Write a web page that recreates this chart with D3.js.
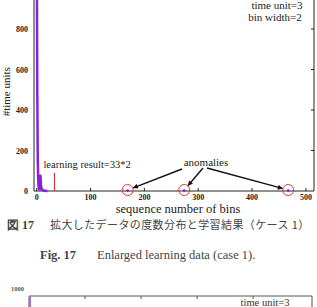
<!DOCTYPE html>
<html>
<head>
<meta charset="utf-8">
<script src="https://cdn.jsdelivr.net/npm/d3@7"></script>
<style>
  body { margin: 0; background: #fff; }
  svg { display: block; }
</style>
</head>
<body>
<div id="chart"></div>
<script>
const WIDTH = 317;
const HEIGHT = 307;
const SERIF = "'Liberation Serif', 'Times New Roman', serif";
const PURPLE = "#8a1ee0";

// histogram of bin occupancy (bins 0..20), rest are empty
const bins   = [0, 1, 2, 3, 4, 5, 6, 7, 8, 9, 10, 11, 12, 13, 14, 15, 16, 17, 18, 19, 20];
const counts = [1400, 520, 150, 40, 12, 8, 20, 75, 30, 10, 6, 4, 3, 2, 2, 1, 1, 1, 0, 0, 0];

const anomalyBins   = [169, 274, 467];
const anomalyCounts = [2, 2, 2];

const learnedBin = 33;
const learnedHeight = 90;

const xTicks = [0, 100, 200, 300, 400, 500];
const yTicks = [0, 200, 400, 600, 800];
const bottomXTicks = [100, 200, 300, 400];

const svg = d3.select("#chart").append("svg")
    .attr("width", WIDTH)
    .attr("height", HEIGHT);

// main chart (top part is cropped off the page)
const x = d3.scaleLinear().domain([-5, 515]).range([34, 314]);
const y = d3.scaleLinear().domain([0, 1000]).range([191, -11.5]);

const frame = svg.append("g");
frame.append("line")
    .attr("x1", x.range()[0]).attr("x2", x.range()[1])
    .attr("y1", y(0)).attr("y2", y(0))
    .attr("stroke", "#222").attr("stroke-width", 1);
frame.append("line")
    .attr("x1", x.range()[0]).attr("x2", x.range()[0])
    .attr("y1", y(1000)).attr("y2", y(0))
    .attr("stroke", "#222").attr("stroke-width", 1);
frame.append("line")
    .attr("x1", x.range()[1]).attr("x2", x.range()[1])
    .attr("y1", y(1000)).attr("y2", y(0))
    .attr("stroke", "#222").attr("stroke-width", 1);

// ticks pointing inward
frame.selectAll(".xt").data(xTicks).enter().append("line")
    .attr("x1", d => x(d)).attr("x2", d => x(d))
    .attr("y1", y(0)).attr("y2", y(0) - 3)
    .attr("stroke", "#222");
frame.selectAll(".yr").data(yTicks.slice(1)).enter().append("line")
    .attr("x1", x.range()[1]).attr("x2", x.range()[1] - 3)
    .attr("y1", d => y(d)).attr("y2", d => y(d))
    .attr("stroke", "#222");

svg.selectAll(".xl").data(xTicks).enter().append("text")
    .attr("x", d => x(d))
    .attr("y", y(0) + 9)
    .attr("text-anchor", "middle")
    .attr("font-family", SERIF).attr("font-weight", "bold").attr("font-size", 8)
    .attr("fill", "#222")
    .text(d => d);

svg.selectAll(".yl").data(yTicks).enter().append("text")
    .attr("x", x.range()[0] - 6)
    .attr("y", d => y(d) + 3)
    .attr("text-anchor", "end")
    .attr("font-family", SERIF).attr("font-weight", "bold").attr("font-size", 8)
    .attr("fill", "#222")
    .text(d => d);

svg.append("text")
    .attr("transform", "translate(10," + y(490) + ") rotate(-90)")
    .attr("text-anchor", "middle")
    .attr("font-family", SERIF).attr("font-size", 11)
    .attr("fill", "#222")
    .text("#time units");

svg.append("text")
    .attr("x", (x.range()[0] + x.range()[1]) / 2 + 4)
    .attr("y", 213)
    .attr("text-anchor", "middle")
    .attr("font-family", SERIF).attr("font-size", 12.5)
    .attr("fill", "#222")
    .text("sequence number of bins");

// histogram line
const line = d3.line()
    .x(d => x(d[0]))
    .y(d => y(d[1]));

svg.append("path")
    .datum(d3.zip(bins, counts))
    .attr("d", line)
    .attr("fill", "none")
    .attr("stroke", PURPLE)
    .attr("stroke-width", 2.5)
    .attr("stroke-linejoin", "round");

// learning result marker
svg.append("line")
    .attr("x1", x(learnedBin)).attr("x2", x(learnedBin))
    .attr("y1", y(0)).attr("y2", y(learnedHeight))
    .attr("stroke", "#e0202a").attr("stroke-width", 1);

svg.append("text")
    .attr("x", x(learnedBin) - 11)
    .attr("y", 168)
    .attr("font-family", SERIF).attr("font-size", 10.5)
    .attr("fill", "#222")
    .text("learning result=33*2");

// anomalies
const anomalies = d3.zip(anomalyBins, anomalyCounts);

svg.selectAll(".ad").data(anomalies).enter().append("circle")
    .attr("cx", d => x(d[0])).attr("cy", d => y(d[1]))
    .attr("r", 1.3)
    .attr("fill", PURPLE);

svg.selectAll(".ac").data(anomalies).enter().append("circle")
    .attr("cx", d => x(d[0])).attr("cy", d => y(0) - 1)
    .attr("r", 5.5)
    .attr("fill", "none")
    .attr("stroke", "#ee3340").attr("stroke-width", 1);

const defs = svg.append("defs");
defs.append("marker")
    .attr("id", "arrow")
    .attr("viewBox", "0 0 10 10")
    .attr("refX", 9).attr("refY", 5)
    .attr("markerWidth", 7).attr("markerHeight", 5)
    .attr("markerUnits", "userSpaceOnUse")
    .attr("orient", "auto")
    .append("path")
    .attr("d", "M0,0 L10,5 L0,10 z")
    .attr("fill", "#111");

const labelX = 206, labelY = 166;
svg.append("text")
    .attr("x", labelX).attr("y", labelY)
    .attr("text-anchor", "middle")
    .attr("font-family", SERIF).attr("font-size", 11)
    .attr("fill", "#222")
    .text("anomalies");

const arrowStarts = [[labelX - 24, labelY + 3], [labelX - 3, labelY + 2], [labelX + 1, labelY + 2]];

function arrowEnd(d, i, k) {
    const sx = arrowStarts[i][0], sy = arrowStarts[i][1];
    const ex = x(d[0]), ey = y(0) - 1;
    const len = Math.hypot(ex - sx, ey - sy);
    return k === 0 ? ex - (ex - sx) / len * 6 : ey - (ey - sy) / len * 6;
}

svg.selectAll(".aa").data(anomalies).enter().append("line")
    .attr("x1", (d, i) => arrowStarts[i][0])
    .attr("y1", (d, i) => arrowStarts[i][1])
    .attr("x2", (d, i) => arrowEnd(d, i, 0))
    .attr("y2", (d, i) => arrowEnd(d, i, 1))
    .attr("stroke", "#111").attr("stroke-width", 1.4)
    .attr("marker-end", "url(#arrow)");

// settings note
svg.append("text")
    .attr("x", 277).attr("y", 9)
    .attr("text-anchor", "middle")
    .attr("font-family", SERIF).attr("font-size", 11)
    .attr("fill", "#222")
    .text("time unit=3");
svg.append("text")
    .attr("x", 275).attr("y", 21)
    .attr("text-anchor", "middle")
    .attr("font-family", SERIF).attr("font-size", 11)
    .attr("fill", "#222")
    .text("bin width=2");

// captions
svg.append("text")
    .attr("x", 7).attr("y", 229)
    .attr("font-family", SERIF)
    .attr("font-weight", "bold")
    .attr("font-size", 12)
    .attr("fill", "#444")
    .text("図 17");
svg.append("text")
    .attr("x", 50).attr("y", 229)
    .attr("font-family", "'Noto Sans CJK JP', sans-serif")
    .attr("font-size", 11)
    .attr("letter-spacing", 0.4)
    .attr("fill", "#444")
    .text("拡大したデータの度数分布と学習結果（ケース 1）");

const cap2 = svg.append("text")
    .attr("x", 40).attr("y", 259)
    .attr("font-family", SERIF)
    .attr("font-size", 12.5)
    .attr("fill", "#444");
cap2.append("tspan").attr("font-weight", "bold").text("Fig. 17");
cap2.append("tspan").attr("x", 97).text("Enlarged learning data (case 1).");

// next figure, cut off by the page edge
const x2 = d3.scaleLinear().domain([0, 505]).range([29, 312]);
const top2 = 296;

svg.append("path")
    .attr("d", "M" + x2.range()[0] + "," + (HEIGHT + 2) + "V" + top2 + "H" + x2.range()[1] + "V" + (HEIGHT + 2))
    .attr("fill", "none").attr("stroke", "#555").attr("stroke-width", 1);
svg.selectAll(".bt").data(bottomXTicks).enter().append("line")
    .attr("x1", d => x2(d)).attr("x2", d => x2(d))
    .attr("y1", top2).attr("y2", top2 + 3)
    .attr("stroke", "#555");
svg.append("line")
    .attr("x1", x2.range()[0] + 1).attr("x2", x2.range()[0] + 1)
    .attr("y1", top2).attr("y2", HEIGHT)
    .attr("stroke", "#a070e0").attr("stroke-width", 2);
svg.append("text")
    .attr("x", x2.range()[0] - 5).attr("y", top2 - 5)
    .attr("text-anchor", "end")
    .attr("font-family", SERIF).attr("font-weight", "bold").attr("font-size", 6.5)
    .attr("fill", "#555")
    .text("1000");
svg.append("text")
    .attr("x", 265).attr("y", 306)
    .attr("text-anchor", "middle")
    .attr("font-family", SERIF).attr("font-size", 10.5)
    .attr("fill", "#333")
    .text("time unit=3");
</script>
</body>
</html>
